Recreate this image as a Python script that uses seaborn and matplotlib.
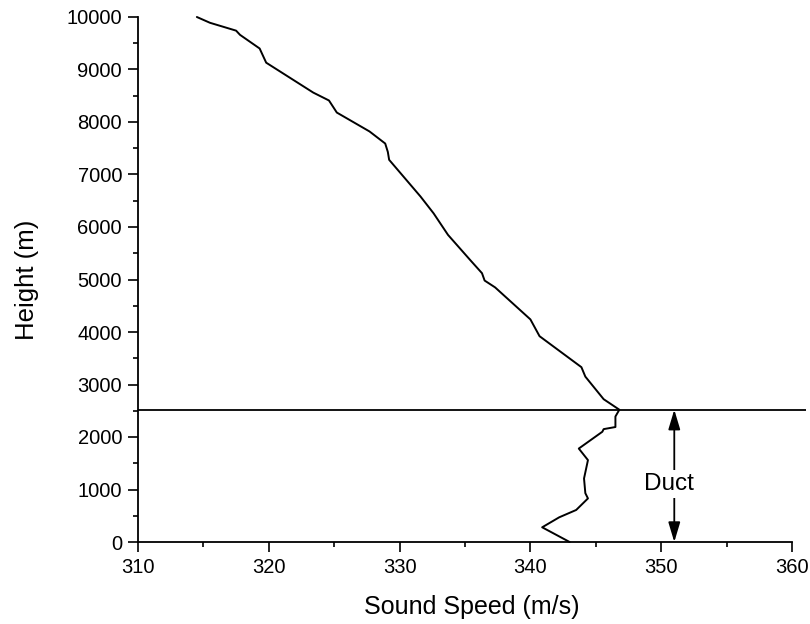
import matplotlib
matplotlib.use("Agg")
import matplotlib.pyplot as plt
from matplotlib.ticker import MultipleLocator
import seaborn as sns
import pandas as pd

# Sound speed profile (m/s) vs height (m)
height = [0, 280, 470, 610, 830, 930, 1210, 1560, 1780, 2100, 2150, 2190, 2390,
          2520, 2720, 3150, 3330, 3920, 4240, 4850, 4980, 5120, 5370, 5850, 6260,
          6580, 7280, 7430, 7590, 7820, 8180, 8410, 8560, 9130, 9400, 9660, 9740,
          9890, 10000]
speed = [343.0, 340.9, 342.2, 343.5, 344.4, 344.2, 344.1, 344.4, 343.7, 345.5,
         345.6, 346.5, 346.5, 346.8, 345.6, 344.2, 343.9, 340.7, 340.0, 337.3,
         336.5, 336.3, 335.4, 333.7, 332.6, 331.6, 329.2, 329.1, 328.9, 327.7,
         325.2, 324.6, 323.4, 319.8, 319.3, 317.8, 317.5, 315.5, 314.5]
duct_top = 2520
duct_x = 351
duct_label = "Duct"
x_ticks = [310, 320, 330, 340, 350, 360]
y_ticks = list(range(0, 10001, 1000))

df = pd.DataFrame({"speed": speed, "height": height})

sns.set_theme(style="ticks")
plt.rcParams["font.family"] = ["Liberation Sans", "DejaVu Sans"]
plt.rcParams["text.color"] = "black"
plt.rcParams["axes.labelcolor"] = "black"

fig = plt.figure(figsize=(8.1, 6.24), dpi=100)
ax = fig.add_axes([138 / 810, 1 - 542 / 624, (806 - 138) / 810, (542 - 17) / 624])

sns.lineplot(data=df, x="speed", y="height", sort=False, estimator=None,
             color="black", linewidth=1.4, ax=ax, clip_on=False)

ax.axhline(duct_top, color="black", linewidth=1.3)

ax.annotate("", xy=(duct_x, duct_top), xytext=(duct_x, 0),
            arrowprops=dict(arrowstyle="<|-|>,head_length=1.0,head_width=0.3",
                            color="black", lw=1.3, mutation_scale=12,
                            shrinkA=0, shrinkB=0))
ax.text(duct_x - 0.4, 1105, duct_label, ha="center", va="center", fontsize=17.5,
        color="black", bbox=dict(facecolor="white", edgecolor="none", pad=2))

ax.set_xlim(310, 310 + 668 / 13.08)
ax.set_ylim(0, 10000)
ax.set_xticks(x_ticks)
ax.set_yticks(y_ticks)
ax.xaxis.set_minor_locator(MultipleLocator(5))
ax.yaxis.set_minor_locator(MultipleLocator(500))

for side in ["top", "right"]:
    ax.spines[side].set_visible(False)
ax.spines["bottom"].set_bounds(310, 360)
for side in ["left", "bottom"]:
    ax.spines[side].set_linewidth(1.3)
    ax.spines[side].set_color("black")

ax.tick_params(which="major", length=7.5, width=1.2, labelsize=14.5, pad=4,
               colors="black", direction="out")
ax.tick_params(which="minor", length=3.8, width=1.2, direction="out", colors="black")

ax.set_xlabel("Sound Speed (m/s)", fontsize=18, labelpad=13)
ax.set_ylabel("Height (m)", fontsize=18.5, labelpad=20)
ax.grid(False)

fig.savefig("out.png", dpi=100, facecolor="white")
